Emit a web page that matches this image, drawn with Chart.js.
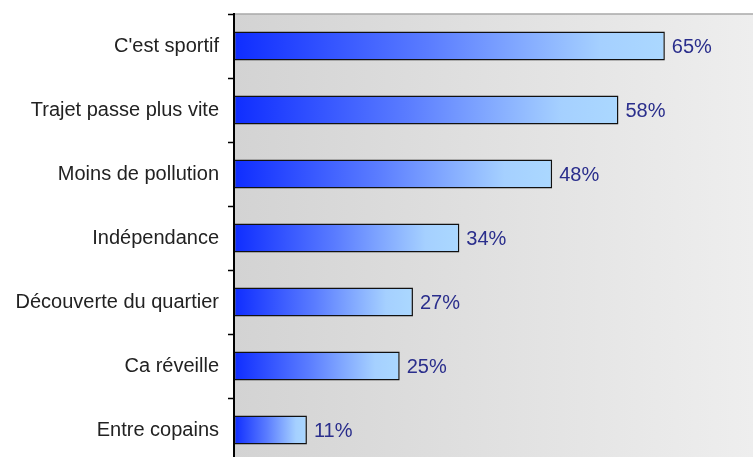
<!DOCTYPE html>
<html>
<head>
<meta charset="utf-8">
<script src="https://cdn.jsdelivr.net/npm/chart.js@4"></script>
<style>
  body { margin: 0; background: #fff; overflow: hidden; }
  canvas { display: block; }
</style>
</head>
<body>
<canvas id="grafico" width="753" height="480"></canvas>
<script>
const categories = ["C'est sportif", "Trajet passe plus vite", "Moins de pollution", "Indépendance", "Découverte du quartier", "Ca réveille", "Entre copains"];
const values = [65, 58, 48, 34, 27, 25, 11];

const fondPlot = {
    id: "fondPlot",
    beforeDraw(chart) {
        const { ctx, chartArea: a } = chart;
        if (!a) return;
        const g = ctx.createLinearGradient(a.left, 0, a.right, 0);
        g.addColorStop(0, "#d3d3d3");
        g.addColorStop(1, "#eeeeee");
        ctx.save();
        ctx.fillStyle = g;
        ctx.fillRect(a.left, a.top, a.right - a.left, a.bottom - a.top);
        ctx.strokeStyle = "#a8a8a8";
        ctx.lineWidth = 1.5;
        ctx.beginPath();
        ctx.moveTo(a.left, a.top);
        ctx.lineTo(a.right, a.top);
        ctx.stroke();
        ctx.restore();
    },
    afterDatasetsDraw(chart) {
        const { ctx, chartArea: a } = chart;
        ctx.save();
        ctx.strokeStyle = "#000";
        ctx.lineWidth = 2;
        ctx.beginPath();
        ctx.moveTo(a.left, a.top - 1);
        ctx.lineTo(a.left, a.bottom);
        ctx.stroke();
        // etiquetas de valor
        ctx.fillStyle = "#2a2e8c";
        ctx.font = "20px 'Liberation Sans', Arial, sans-serif";
        ctx.textBaseline = "middle";
        chart.getDatasetMeta(0).data.forEach((bar, i) => {
            ctx.fillText(values[i] + "%", bar.x + 7, bar.y + 1);
        });
        ctx.restore();
    }
};

function degradado(context) {
    const chart = context.chart;
    const a = chart.chartArea;
    if (!a || !chart.scales.x) return "#4060ff";
    const x0 = chart.scales.x.getPixelForValue(0);
    const x1 = chart.scales.x.getPixelForValue(values[context.dataIndex]);
    const g = chart.ctx.createLinearGradient(x0, 0, x1, 0);
    g.addColorStop(0, "#0f2dff");
    g.addColorStop(0.45, "#5a7cff");
    g.addColorStop(0.85, "#a5d0ff");
    g.addColorStop(1, "#abd8ff");
    return g;
}

new Chart(document.getElementById("grafico"), {
    type: "bar",
    data: {
        labels: categories,
        datasets: [{
            data: values,
            backgroundColor: degradado,
            borderColor: "#111",
            borderWidth: 1.5,
            borderSkipped: false,
            barPercentage: 0.45,
            categoryPercentage: 1
        }]
    },
    options: {
        indexAxis: "y",
        responsive: false,
        animation: false,
        devicePixelRatio: 1,
        layout: { padding: { top: 14, bottom: 18, right: 0, left: 0 } },
        plugins: {
            legend: { display: false },
            tooltip: { enabled: false }
        },
        scales: {
            x: { display: false, min: 0, max: 78.3 },
            y: {
                afterFit(scale) {
                    scale.width = 234;
                    scale.paddingTop = 0;
                    scale.paddingBottom = 0;
                },
                border: { display: false },
                grid: {
                    drawOnChartArea: false,
                    tickLength: 6,
                    tickColor: "#000",
                    tickWidth: 1.5,
                    offset: true
                },
                ticks: {
                    color: "#222",
                    padding: 9,
                    font: { family: "'Liberation Sans', Arial, sans-serif", size: 20 }
                }
            }
        }
    },
    plugins: [fondPlot]
});
</script>
</body>
</html>
